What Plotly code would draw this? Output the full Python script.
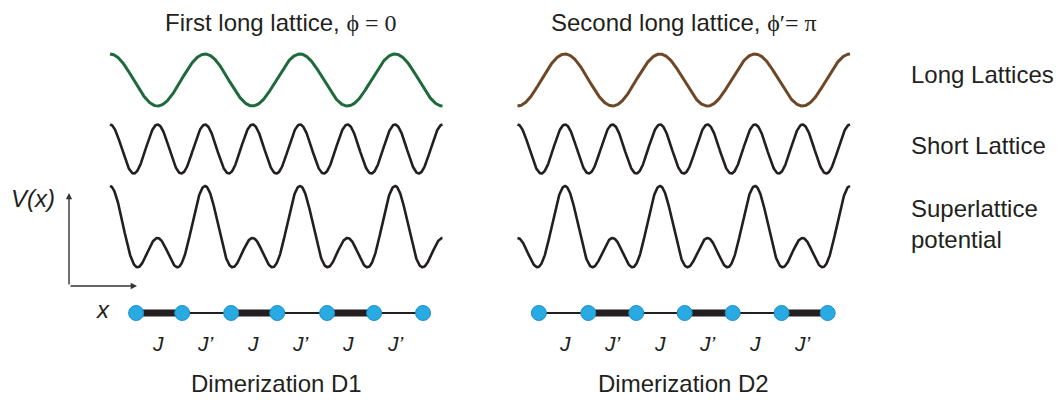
import numpy as np
import plotly.graph_objects as go

# ---------------- data ----------------
panel_titles = [
    "First long lattice, <span style='font-family:Liberation Serif'>ϕ = 0</span>",
    "Second long lattice, <span style='font-family:Liberation Serif'>ϕ′= π</span>",
]
dimer_titles = ["Dimerization D1", "Dimerization D2"]
long_phase = [0.0, np.pi]            # phase of long lattice (phi, phi')
long_colors = ["#1e6a3a", "#6e4826"]
short_wavenumber = 2 * np.pi         # short lattice period = 1 site
long_wavenumber = np.pi              # long lattice period = 2 sites
x_span = [0.0, 7.0]                  # lattice span shown (site units)
row_labels = ["Long Lattices", "Short Lattice", "Superlattice<br>potential"]

sites = [
    [0.55, 1.52, 2.55, 3.52, 4.57, 5.56, 6.59],   # D1
    [0.45, 1.49, 2.50, 3.52, 4.53, 5.56, 6.53],   # D2
]
strong_bond = [
    [True, False, True, False, True, False],      # D1
    [False, True, False, True, False, True],      # D2
]
bond_labels = ["J", "J’", "J", "J’", "J", "J’"]
bond_label_x = [1, 2, 3, 4, 5, 6]

# ---------------- layout constants ----------------
W, H = 1061, 400          # target picture
OFF = 8                   # page body margin
Wf, Hf = W - OFF, H - OFF # figure size
px_per_site = 47.5
origin_px = [110.0, 517.5]
x_ranges = [[-2.0, 7.5], [-0.5, 7.5]]
title_x = [3.6, 3.5]
row_center = {"long": 80.0, "short": 149.0, "super": 238.0, "chain": 313.0}
row_amp = {"long": 26.0, "short": 24.5, "super": 26.0}
INK = "#231f20"
FONT = "Liberation Sans"


def px(xp):
    return (xp - OFF) / Wf


fig = go.Figure()
x = np.linspace(x_span[0], x_span[1], 800)

for p in range(2):
    xa = "x" if p == 0 else "x2"
    long_v = np.cos(long_wavenumber * x + long_phase[p])
    short_v = np.cos(short_wavenumber * x)
    super_v = short_v + long_v
    fig.add_trace(go.Scatter(x=x, y=row_center["long"] - row_amp["long"] * long_v,
                             mode="lines", line=dict(color=long_colors[p], width=3),
                             xaxis=xa, yaxis="y", hoverinfo="skip"))
    fig.add_trace(go.Scatter(x=x, y=row_center["short"] - row_amp["short"] * short_v,
                             mode="lines", line=dict(color=INK, width=2.6),
                             xaxis=xa, yaxis="y", hoverinfo="skip"))
    fig.add_trace(go.Scatter(x=x, y=row_center["super"] - row_amp["super"] * super_v,
                             mode="lines", line=dict(color=INK, width=2.6),
                             xaxis=xa, yaxis="y", hoverinfo="skip"))
    # bonds
    s = sites[p]
    for b in range(len(s) - 1):
        fig.add_trace(go.Scatter(x=[s[b], s[b + 1]], y=[row_center["chain"]] * 2,
                                 mode="lines",
                                 line=dict(color=INK, width=7 if strong_bond[p][b] else 2),
                                 xaxis=xa, yaxis="y", hoverinfo="skip"))
    fig.add_trace(go.Scatter(x=s, y=[row_center["chain"]] * len(s), mode="markers",
                             marker=dict(size=15, color="#29aae2",
                                         line=dict(color="#1c8fca", width=1)),
                             xaxis=xa, yaxis="y", hoverinfo="skip"))
    # bond labels
    for lx, lt in zip(bond_label_x, bond_labels):
        fig.add_annotation(x=lx, y=343, xref=xa, yref="y", text=lt, showarrow=False,
                           font=dict(family=FONT, size=21, color=INK, style="italic"),
                           xanchor="center", yanchor="middle")
    # titles
    fig.add_annotation(x=title_x[p], y=22, xref=xa, yref="y", text=panel_titles[p],
                       showarrow=False, font=dict(family=FONT, size=24, color=INK),
                       xanchor="center", yanchor="middle")
    fig.add_annotation(x=3.5, y=383, xref=xa, yref="y", text=dimer_titles[p],
                       showarrow=False, font=dict(family=FONT, size=24, color=INK),
                       xanchor="center", yanchor="middle")

# right-hand row labels
label_y = [74, 145, 224]
for t, ly in zip(row_labels, label_y):
    fig.add_annotation(x=px(909), y=ly, xref="paper", yref="y", text=t, showarrow=False,
                       align="left", font=dict(family=FONT, size=24, color=INK),
                       xanchor="left", yanchor="middle")

# V(x) axes arrows
fig.add_annotation(x=px(69), y=193, xref="paper", yref="y", ax=0, ay=93, text="",
                   showarrow=True, arrowhead=2, arrowsize=0.9, arrowwidth=1.4,
                   arrowcolor="#333333")
fig.add_annotation(x=px(137), y=286, xref="paper", yref="y", ax=-68, ay=0, text="",
                   showarrow=True, arrowhead=2, arrowsize=0.9, arrowwidth=1.4,
                   arrowcolor="#333333")
fig.add_annotation(x=px(33), y=198, xref="paper", yref="y", text="V(x)", showarrow=False,
                   font=dict(family=FONT, size=24, color=INK, style="italic"),
                   xanchor="center", yanchor="middle")
fig.add_annotation(x=px(103), y=309, xref="paper", yref="y", text="x", showarrow=False,
                   font=dict(family=FONT, size=24, color=INK, style="italic"),
                   xanchor="center", yanchor="middle")


def dom(p):
    lo = origin_px[p] + x_ranges[p][0] * px_per_site
    hi = origin_px[p] + x_ranges[p][1] * px_per_site
    return [px(lo), px(hi)]


axis_off = dict(visible=False, showgrid=False, zeroline=False, fixedrange=True)
fig.update_layout(
    width=Wf, height=Hf,
    margin=dict(l=0, r=0, t=0, b=0),
    paper_bgcolor="white", plot_bgcolor="white",
    showlegend=False,
    xaxis=dict(domain=dom(0), range=x_ranges[0], anchor="y", **axis_off),
    xaxis2=dict(domain=dom(1), range=x_ranges[1], anchor="y", **axis_off),
    yaxis=dict(domain=[0, 1], range=[H, OFF], anchor="x", **axis_off),
)

fig.write_html("out.html")
